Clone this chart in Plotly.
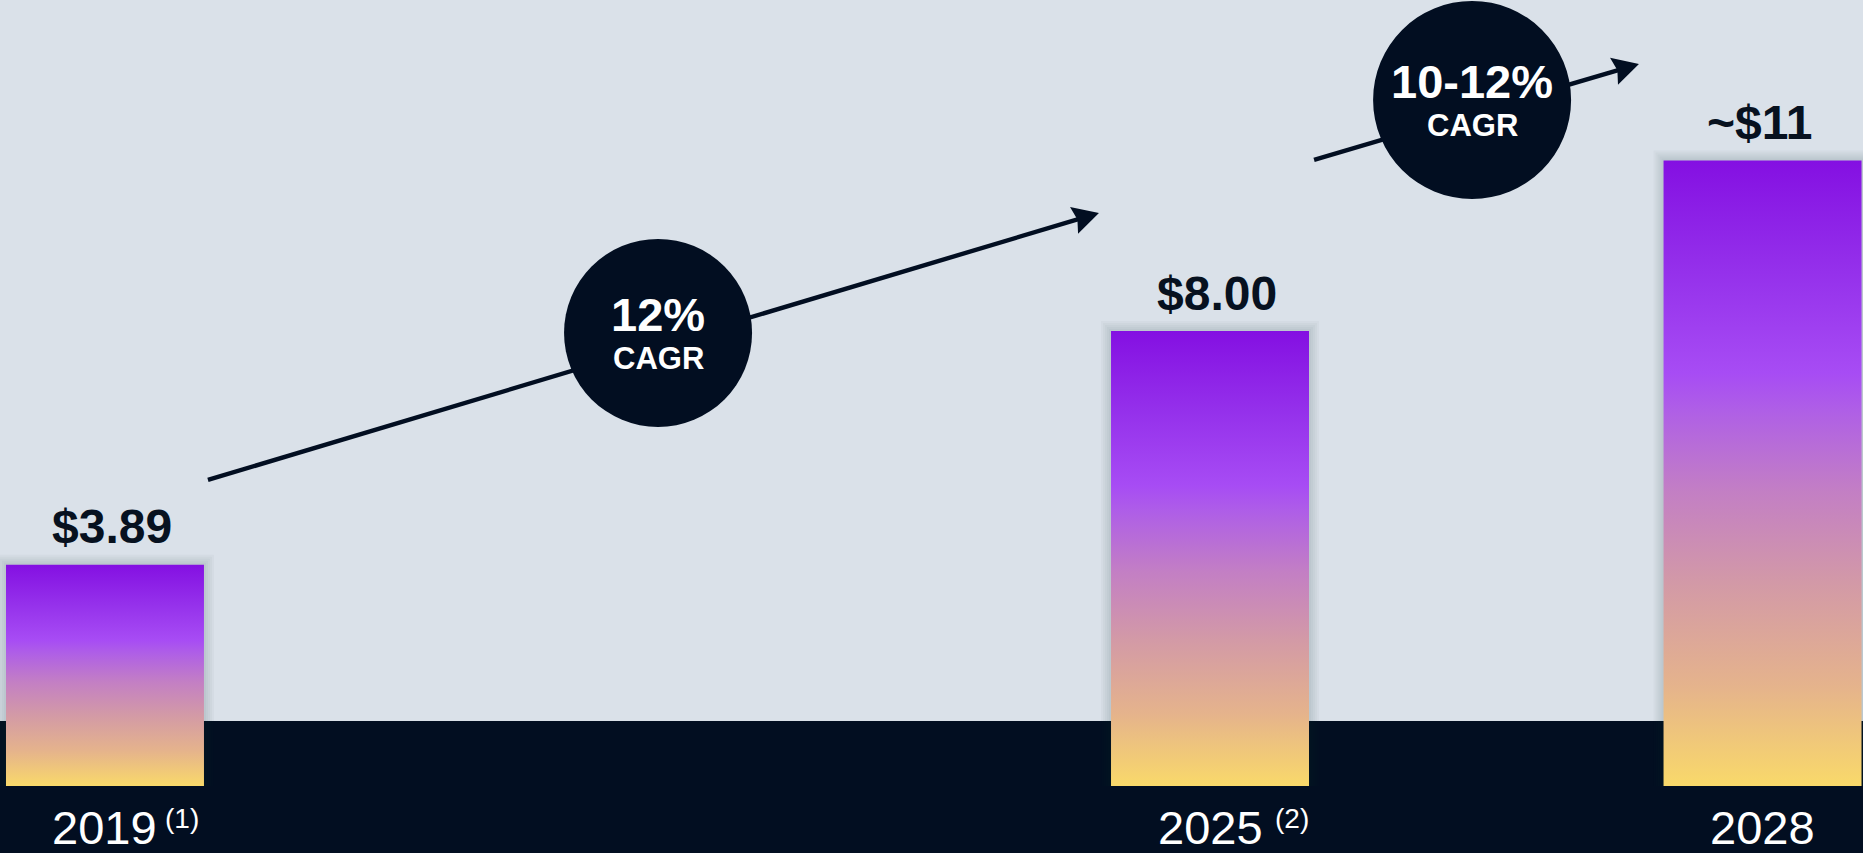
import plotly.graph_objects as go

# ---------------- data ----------------
years = [2019, 2025, 2028]
values = [3.89, 8.00, 11.0]
value_labels = ["$3.89", "$8.00", "~$11"]
value_label_shift = [7, 7, -3]
tick_labels = ["2019", "2025", "2028"]
footnotes = ["(1)", "(2)", ""]
footnote_shift = [60, 65, 0]

cagr_big = ["12%", "10-12%"]
cagr_small = ["CAGR", "CAGR"]
cagr_centers_x = [2022.003, 2026.423]
cagr_centers_y = [7.966, 12.063]
cagr_radius_px = [94, 99]

# arrow (tail -> tip) in data units
arrow_tail_x = [2019.559, 2025.565]
arrow_tail_y = [5.381, 11.008]
arrow_tip_x = [2024.397, 2027.329]
arrow_tip_y = [10.076, 12.696]

# ---------------- style ----------------
BG = "#DAE1E9"
DARK = "#020E21"
FONT = "Liberation Sans, Arial, sans-serif"
W, H = 1863, 853
X_RANGE = [2018.430, 2028.5455]
Y_RANGE = [-1.178, 13.82]
PX_X = W / (X_RANGE[1] - X_RANGE[0])
PX_Y = H / (Y_RANGE[1] - Y_RANGE[0])
BAR_W = 1.075
BAND_TOP = 1 - 721 / 853

grad = [[0.0, "#F9D96A"], [0.16, "#E5B38C"], [0.32, "#D39AA6"], [0.47, "#C37FC4"],
        [0.6, "#AF5FE6"], [0.66, "#A74CF4"], [0.82, "#9531EB"], [1.0, "#8410E2"]]

fig = go.Figure()

shapes = [dict(type="rect", xref="paper", yref="paper", x0=0, x1=1, y0=0, y1=BAND_TOP,
               fillcolor=DARK, line=dict(width=0), layer="below")]

# bar shadows
for yr, v in zip(years, values):
    for k in range(1, 6):
        dx = k * 2.0 / PX_X
        dy = k * 2.0 / PX_Y
        shapes.append(dict(type="rect", xref="x", yref="y",
                           x0=yr - BAR_W / 2 - dx, x1=yr + BAR_W / 2 + dx,
                           y0=0, y1=v + dy,
                           fillcolor="rgba(40,50,75,0.03)", line=dict(width=0), layer="below"))

# bars as gradient-filled polygons
for yr, v in zip(years, values):
    x0, x1 = yr - BAR_W / 2, yr + BAR_W / 2
    fig.add_trace(go.Scatter(
        x=[x0, x1, x1, x0, x0], y=[0, 0, v, v, 0],
        mode="lines", fill="toself", line=dict(width=0),
        fillgradient=dict(type="vertical", colorscale=grad),
        hoverinfo="skip", showlegend=False))


def px_to_data(hx, hy, along, normal, ux, uy):
    # pixel frame: ux, uy unit direction in pixel space (y down)
    nx, ny = -uy, ux
    px = along * ux + normal * nx
    py = along * uy + normal * ny
    return hx + px / PX_X, hy - py / PX_Y


# arrow lines + heads
for tx, ty, hx, hy in zip(arrow_tail_x, arrow_tail_y, arrow_tip_x, arrow_tip_y):
    ddx = (hx - tx) * PX_X
    ddy = -(hy - ty) * PX_Y
    L = (ddx ** 2 + ddy ** 2) ** 0.5
    ux, uy = ddx / L, ddy / L
    ex, ey = px_to_data(hx, hy, -18, 0, ux, uy)
    shapes.append(dict(type="line", xref="x", yref="y", x0=tx, y0=ty, x1=ex, y1=ey,
                       line=dict(color=DARK, width=4.4), layer="above"))
    pts = [px_to_data(hx, hy, 0, 0, ux, uy),
           px_to_data(hx, hy, -26, -14, ux, uy),
           px_to_data(hx, hy, -22.5, 0, ux, uy),
           px_to_data(hx, hy, -26, 14, ux, uy)]
    path = "M " + " L ".join(f"{a},{b}" for a, b in pts) + " Z"
    shapes.append(dict(type="path", xref="x", yref="y", path=path,
                       fillcolor=DARK, line=dict(width=0), layer="above"))

# circles
for cx, cy, r in zip(cagr_centers_x, cagr_centers_y, cagr_radius_px):
    shapes.append(dict(type="circle", xref="x", yref="y", xsizemode="pixel", ysizemode="pixel",
                       xanchor=cx, yanchor=cy, x0=-r, x1=r, y0=-r, y1=r,
                       fillcolor=DARK, line=dict(width=0), layer="above"))

ann = []
# value labels
for yr, v, lab, sh in zip(years, values, value_labels, value_label_shift):
    ann.append(dict(x=yr, y=v, xref="x", yref="y", text=f"<b>{lab}</b>", showarrow=False,
                    yanchor="middle", yshift=38, xshift=sh,
                    font=dict(family=FONT, size=48, color="#07111F")))

# x labels
for yr, lab, fn, fs in zip(years, tick_labels, footnotes, footnote_shift):
    ann.append(dict(x=yr, y=1 - 827.5 / 853, xref="x", yref="paper", text=lab, showarrow=False,
                    yanchor="middle", font=dict(family=FONT, size=47, color="white")))
    if fn:
        ann.append(dict(x=yr, y=1 - 818 / 853, xref="x", yref="paper", text=fn, showarrow=False,
                        xanchor="left", xshift=fs - 2, yanchor="middle",
                        font=dict(family=FONT, size=28, color="white")))

# CAGR text
for cx, cy, big, small in zip(cagr_centers_x, cagr_centers_y, cagr_big, cagr_small):
    ann.append(dict(x=cx, y=cy, xref="x", yref="y", text=f"<b>{big}</b>", showarrow=False,
                    yanchor="middle", yshift=18.5, font=dict(family=FONT, size=47, color="white")))
    ann.append(dict(x=cx, y=cy, xref="x", yref="y", text=f"<b>{small}</b>", showarrow=False,
                    yanchor="middle", yshift=-26, font=dict(family=FONT, size=31, color="white")))

fig.update_layout(
    width=W, height=H, margin=dict(l=0, r=0, t=0, b=0),
    paper_bgcolor=BG, plot_bgcolor=BG,
    xaxis=dict(range=X_RANGE, visible=False, fixedrange=True),
    yaxis=dict(range=Y_RANGE, visible=False, fixedrange=True),
    shapes=shapes, annotations=ann, showlegend=False,
)

fig.write_html("out.html", config={"displayModeBar": False})
